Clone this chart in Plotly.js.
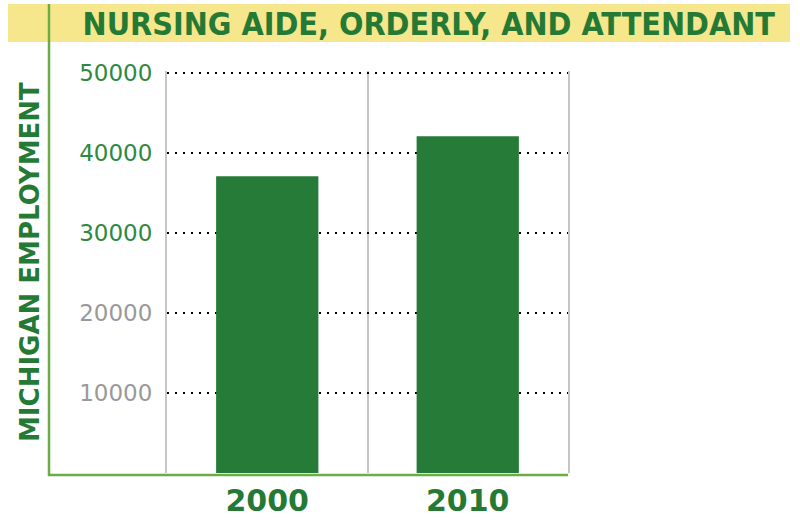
<!DOCTYPE html>
<html>
<head>
<meta charset="utf-8">
<script src="https://cdn.plot.ly/plotly-3.0.1.min.js"></script>
<style>html,body{margin:0;padding:0;background:#fff;}</style>
</head>
<body>
<div id="chart" style="width:800px;height:521px;"></div>
<script>
// Data
var years = [2000, 2010];
var employment = [37100, 42100];
var yTickVals = [10000, 20000, 30000, 40000, 50000];
var yTickLabels = ['10000', '20000', '30000', '40000', '50000'];
var yTickColors = ['#999999', '#999999', '#2b8a3e', '#2b8a3e', '#2b8a3e'];
var xTickLabels = ['2000', '2010'];
var chartTitle = 'NURSING AIDE, ORDERLY, AND ATTENDANT';
var yTitle = 'MICHIGAN EMPLOYMENT';

var green = '#267b38';
var lineGreen = '#6aad45';

var ticktext = yTickLabels.map(function (t, i) {
  return '<span style="color:' + yTickColors[i] + '">' + t + '</span>';
});

var trace = {
  type: 'bar',
  x: years,
  y: employment,
  marker: { color: green },
  hoverinfo: 'x+y'
};

// plot area: x 167..568, y 71..473 (range top padded by 2px so the 50000 grid line is kept)
var layout = {
  width: 800,
  height: 521,
  margin: { l: 167, r: 232, t: 71, b: 48, pad: 0 },
  paper_bgcolor: '#ffffff',
  plot_bgcolor: '#ffffff',
  bargap: 0.49,
  showlegend: false,
  title: {
    text: chartTitle,
    font: { family: 'Liberation Sans Narrow, DejaVu Sans Condensed, sans-serif', size: 32, color: '#247a35', weight: 'bold' },
    x: 0.536, xref: 'container', xanchor: 'center',
    y: 1 - 24 / 521, yref: 'container', yanchor: 'middle'
  },
  xaxis: {
    type: 'linear',
    range: [1995, 2015],
    tickvals: years,
    ticktext: xTickLabels,
    showgrid: false,
    zeroline: false,
    showline: false,
    ticks: 'outside',
    ticklen: 1,
    tickcolor: 'rgba(0,0,0,0)',
    tickfont: { family: 'DejaVu Sans, sans-serif', size: 30, color: '#247a35', weight: 'bold' },
    minor: { tick0: 1995, dtick: 10, showgrid: true, gridcolor: '#c6c6c6', gridwidth: 2, ticks: '' },
    fixedrange: true
  },
  yaxis: {
    range: [0, 50250],
    tickvals: yTickVals,
    ticktext: ticktext,
    showgrid: true,
    gridcolor: '#000000',
    gridwidth: 2,
    griddash: '2px,6px',
    zeroline: false,
    showline: true,
    mirror: true,
    linecolor: '#c6c6c6',
    linewidth: 2,
    ticks: 'outside',
    ticklen: 8,
    tickcolor: 'rgba(0,0,0,0)',
    tickfont: { family: 'DejaVu Sans, sans-serif', size: 23, color: '#2b8a3e' },
    fixedrange: true
  },
  shapes: [
    { type: 'rect', xref: 'paper', yref: 'paper', x0: (8 - 167) / 401, x1: (790 - 167) / 401, y0: (473 - 42) / 402, y1: (473 - 4) / 402, fillcolor: '#f6e68c', line: { width: 0 }, layer: 'below' },
    { type: 'line', xref: 'paper', yref: 'paper', x0: (49 - 167) / 401, x1: (49 - 167) / 401, y0: (473 - 476) / 402, y1: (473 - 4) / 402, line: { color: lineGreen, width: 2.5 } },
    { type: 'line', xref: 'paper', yref: 'paper', x0: (48 - 167) / 401, x1: 1, y0: (473 - 475) / 402, y1: (473 - 475) / 402, line: { color: lineGreen, width: 2.5 } }
  ],
  annotations: [
    {
      text: yTitle, xref: 'paper', yref: 'paper',
      x: (30 - 167) / 401, y: (473 - 262) / 402,
      xanchor: 'center', yanchor: 'middle', textangle: -90, showarrow: false,
      font: { family: 'DejaVu Sans, sans-serif', size: 26, color: '#247a35', weight: 'bold' }
    }
  ]
};

Plotly.newPlot('chart', [trace], layout, { displayModeBar: false, staticPlot: true });
</script>
</body>
</html>
